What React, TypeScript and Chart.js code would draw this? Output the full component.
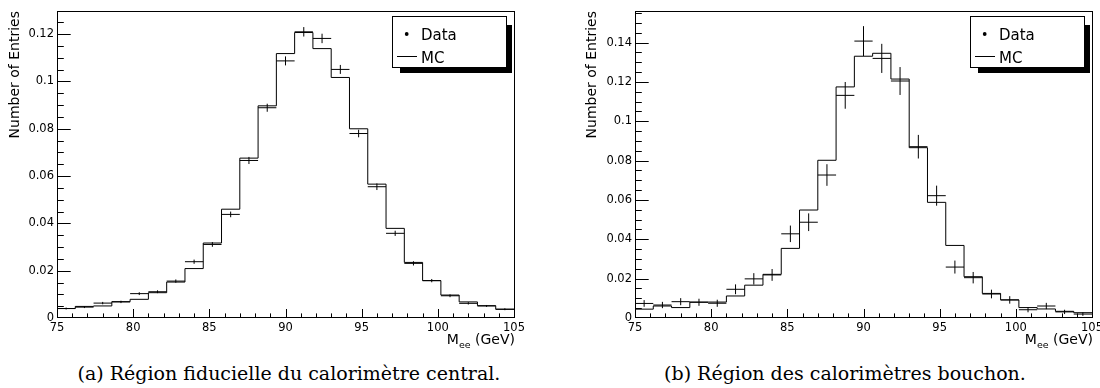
import React, { useEffect, useRef } from "react";
import { Chart, registerables } from "chart.js";

Chart.register(...registerables);

// ---------- data ----------
const binEdges = [75, 76.2, 77.4, 78.6, 79.8, 81, 82.2, 83.4, 84.6, 85.8, 87, 88.2, 89.4, 90.6, 91.8, 93, 94.2, 95.4, 96.6, 97.8, 99, 100.2, 101.4, 102.6, 103.8, 105];
const binCenters = [75.6, 76.8, 78.0, 79.2, 80.4, 81.6, 82.8, 84.0, 85.2, 86.4, 87.6, 88.8, 90.0, 91.2, 92.4, 93.6, 94.8, 96.0, 97.2, 98.4, 99.6, 100.8, 102.0, 103.2, 104.4];
const binHalfWidth = 0.6;

const mcA = [0.0040, 0.0049, 0.0051, 0.0069, 0.0079, 0.0107, 0.0152, 0.0209, 0.0317, 0.0460, 0.0676, 0.0897, 0.1118, 0.1207, 0.1139, 0.1017, 0.0800, 0.0566, 0.0379, 0.0235, 0.0158, 0.0097, 0.0068, 0.0052, 0.0037];
const dataA = [0.0040, 0.0046, 0.0063, 0.0068, 0.0103, 0.0111, 0.0156, 0.0238, 0.0311, 0.0438, 0.0666, 0.0889, 0.1087, 0.1210, 0.1182, 0.1051, 0.0780, 0.0555, 0.0358, 0.0231, 0.0158, 0.0094, 0.0062, 0.0051, 0.0037];
const errA = [0.0004, 0.0004, 0.0005, 0.0005, 0.0006, 0.0006, 0.0007, 0.0009, 0.0010, 0.0012, 0.0015, 0.0017, 0.0019, 0.0020, 0.0020, 0.0019, 0.0016, 0.0014, 0.0011, 0.0009, 0.0007, 0.0006, 0.0005, 0.0004, 0.0004];

const mcB = [0.0045, 0.0061, 0.0053, 0.0081, 0.0081, 0.0112, 0.0167, 0.0222, 0.0354, 0.0549, 0.0802, 0.1175, 0.1331, 0.1346, 0.1215, 0.0866, 0.0588, 0.0369, 0.0210, 0.0125, 0.0092, 0.0053, 0.0046, 0.0034, 0.0027];
const dataB = [0.0074, 0.0066, 0.0083, 0.0080, 0.0075, 0.0146, 0.0199, 0.0219, 0.0428, 0.0487, 0.0727, 0.1132, 0.1408, 0.1320, 0.1205, 0.0871, 0.0622, 0.0259, 0.0205, 0.0122, 0.0092, 0.0042, 0.0061, 0.0031, 0.0020];
const errB = [0.0017, 0.0016, 0.0018, 0.0018, 0.0018, 0.0025, 0.0029, 0.0030, 0.0042, 0.0045, 0.0055, 0.0068, 0.0076, 0.0074, 0.0071, 0.0060, 0.0051, 0.0033, 0.0029, 0.0022, 0.0019, 0.0013, 0.0016, 0.0011, 0.0009];

const xTickValues = [75, 80, 85, 90, 95, 100, 105];
const xTickLabels = ["75", "80", "85", "90", "95", "100", "105"];
const yTickValuesA = [0, 0.02, 0.04, 0.06, 0.08, 0.1, 0.12];
const yTickLabelsA = ["0", "0.02", "0.04", "0.06", "0.08", "0.1", "0.12"];
const yTickValuesB = [0, 0.02, 0.04, 0.06, 0.08, 0.1, 0.12, 0.14];
const yTickLabelsB = ["0", "0.02", "0.04", "0.06", "0.08", "0.1", "0.12", "0.14"];

const legendLabels = ["Data", "MC"];
const yTitle = "Number of Entries";
const xTitleMain = "M";
const xTitleSub = "ee";
const xTitleUnit = " (GeV)";
const captionA = "(a) Région fiducielle du calorimètre central.";
const captionB = "(b) Région des calorimètres bouchon.";

const X_MIN = 75;
const X_MAX = 105;
const X_MINOR = 1;
const X_MAJOR = 5;
const Y_MINOR = 0.005;

// ---------- helpers ----------
type PanelCfg = {
  canvasLeft: number;
  yAxisWidth: number;
  padRight: number;
  yMax: number;
  yTicks: number[];
  yLabels: string[];
  mc: number[];
  data: number[];
  err: number[];
  titleX: number;
};

const FONT = '"DejaVu Sans", Verdana, sans-serif';

function makeDecor(p: PanelCfg) {
  return {
    id: "rootDecor",
    afterDraw(chart: any) {
      const ctx = chart.ctx as CanvasRenderingContext2D;
      const { left, right, top, bottom } = chart.chartArea;
      const xs = chart.scales.x;
      const ys = chart.scales.y;
      ctx.save();
      ctx.strokeStyle = "#000";
      ctx.lineWidth = 1;
      ctx.beginPath();
      const nx = Math.round((X_MAX - X_MIN) / X_MINOR);
      for (let k = 0; k <= nx; k++) {
        const v = X_MIN + k * X_MINOR;
        const px = Math.round(xs.getPixelForValue(v)) + 0.5;
        const major = k % Math.round(X_MAJOR / X_MINOR) === 0;
        const len = major ? 9 : 4.6;
        ctx.moveTo(px, bottom);
        ctx.lineTo(px, bottom - len);
      }
      const ny = Math.floor(p.yMax / Y_MINOR + 1e-6);
      for (let k = 0; k <= ny; k++) {
        const v = k * Y_MINOR;
        const py = Math.min(Math.round(ys.getPixelForValue(v)) + 0.5, bottom - 0.5);
        const len = k % 4 === 0 ? 13.7 : 6.8;
        ctx.moveTo(left, py);
        ctx.lineTo(left + len, py);
      }
      ctx.stroke();
      // frame
      ctx.strokeRect(left + 0.5, top + 0.5, right - left, bottom - top - 1);

      // y title
      ctx.fillStyle = "#000";
      ctx.save();
      ctx.translate(p.titleX, top);
      ctx.rotate(-Math.PI / 2);
      ctx.textAlign = "right";
      ctx.textBaseline = "middle";
      ctx.font = `14px ${FONT}`;
      ctx.fillText(yTitle, 0, 0);
      ctx.restore();

      // x title
      ctx.textAlign = "left";
      ctx.textBaseline = "alphabetic";
      ctx.font = `14px ${FONT}`;
      const w1 = ctx.measureText(xTitleMain).width;
      const w3 = ctx.measureText(xTitleUnit).width;
      ctx.font = `9.5px ${FONT}`;
      const w2 = ctx.measureText(xTitleSub).width;
      const xEnd = right + 1;
      const x0 = xEnd - (w1 + w2 + w3);
      const base = 344;
      ctx.font = `14px ${FONT}`;
      ctx.fillText(xTitleMain, x0, base);
      ctx.fillText(xTitleUnit, x0 + w1 + w2, base);
      ctx.font = `9.5px ${FONT}`;
      ctx.fillText(xTitleSub, x0 + w1, base + 4);

      // legend
      const L = Math.round(right) - 122;
      const T = 16;
      const W = 114;
      const H = 51;
      ctx.fillStyle = "#000";
      ctx.fillRect(L + 8, T + 9, 112, 48);
      ctx.fillStyle = "#fff";
      ctx.fillRect(L, T, W + 1, H + 1);
      ctx.strokeStyle = "#000";
      ctx.strokeRect(L + 0.5, T + 0.5, W, H);
      ctx.fillStyle = "#000";
      ctx.beginPath();
      ctx.arc(L + 14.7, T + 18, 1.9, 0, Math.PI * 2);
      ctx.fill();
      ctx.beginPath();
      ctx.moveTo(L + 5, T + 40.5);
      ctx.lineTo(L + 25, T + 40.5);
      ctx.stroke();
      ctx.font = `15px ${FONT}`;
      ctx.fillText(legendLabels[0], L + 29, T + 24);
      ctx.fillText(legendLabels[1], L + 29, T + 47);
      ctx.restore();
    },
  };
}

function Panel({ p }: { p: PanelCfg }) {
  const ref = useRef<HTMLCanvasElement>(null);
  useEffect(() => {
    const canvas = ref.current!;
    const stepPts = binEdges.map((x, i) => ({ x, y: p.mc[Math.min(i, p.mc.length - 1)] }));
    const hPts: any[] = [];
    const vPts: any[] = [];
    binCenters.forEach((c, i) => {
      hPts.push({ x: c - binHalfWidth, y: p.data[i] });
      hPts.push({ x: c + binHalfWidth, y: p.data[i] });
      hPts.push({ x: c + binHalfWidth, y: null });
      vPts.push({ x: c, y: p.data[i] - p.err[i] });
      vPts.push({ x: c, y: p.data[i] + p.err[i] });
      vPts.push({ x: c, y: null });
    });
    const tickFont = { family: FONT, size: 11.5 };
    const chart = new Chart(canvas, {
      type: "line",
      data: {
        datasets: [
          {
            label: legendLabels[1],
            data: stepPts,
            stepped: "before",
            borderColor: "#000",
            borderWidth: 1,
            pointRadius: 0,
            fill: false,
          },
          {
            label: legendLabels[0] + " x",
            data: hPts,
            borderColor: "#000",
            borderWidth: 1,
            pointRadius: 0,
            spanGaps: false,
            fill: false,
          },
          {
            label: legendLabels[0] + " y",
            data: vPts,
            borderColor: "#000",
            borderWidth: 1,
            pointRadius: 0,
            spanGaps: false,
            fill: false,
          },
        ],
      },
      options: {
        animation: false,
        responsive: false,
        devicePixelRatio: 1,
        events: [],
        layout: { padding: { left: 0, top: 11, right: p.padRight, bottom: 0 } },
        plugins: { legend: { display: false }, tooltip: { enabled: false } },
        scales: {
          x: {
            type: "linear",
            min: X_MIN,
            max: X_MAX,
            grid: { display: false, drawTicks: false },
            border: { display: false },
            afterBuildTicks: (s: any) => {
              s.ticks = xTickValues.map((v) => ({ value: v }));
            },
            afterFit: (s: any) => {
              s.height = 34;
              s.paddingLeft = 0;
              s.paddingRight = 0;
            },
            ticks: {
              autoSkip: false,
              maxRotation: 0,
              padding: 3,
              color: "#000",
              font: tickFont,
              callback: (_v: any, i: number) => xTickLabels[i],
            },
          },
          y: {
            type: "linear",
            min: 0,
            max: p.yMax,
            grid: { display: false, drawTicks: false },
            border: { display: false },
            afterBuildTicks: (s: any) => {
              s.ticks = p.yTicks.map((v) => ({ value: v }));
            },
            afterFit: (s: any) => {
              s.width = p.yAxisWidth;
              s.paddingTop = 0;
              s.paddingBottom = 0;
            },
            ticks: {
              autoSkip: false,
              padding: 3,
              color: "#000",
              font: tickFont,
              callback: (_v: any, i: number) => p.yLabels[i],
            },
          },
        },
      } as any,
      plugins: [makeDecor(p)],
    });
    return () => chart.destroy();
  }, []);
  return (
    <canvas
      ref={ref}
      width={550}
      height={352}
      style={{ position: "absolute", left: p.canvasLeft, top: 0, width: 550, height: 352 }}
    />
  );
}

const panelA: PanelCfg = {
  canvasLeft: 0,
  yAxisWidth: 57,
  padRight: 36,
  yMax: 0.1298,
  yTicks: yTickValuesA,
  yLabels: yTickLabelsA,
  mc: mcA,
  data: dataA,
  err: errA,
  titleX: 15,
};

const panelB: PanelCfg = {
  canvasLeft: 550,
  yAxisWidth: 85,
  padRight: 8,
  yMax: 0.1561,
  yTicks: yTickValuesB,
  yLabels: yTickLabelsB,
  mc: mcB,
  data: dataB,
  err: errB,
  titleX: 42,
};

const captionStyle: React.CSSProperties = {
  position: "absolute",
  top: 363,
  width: 700,
  textAlign: "center",
  fontFamily: '"DejaVu Serif", serif',
  fontSize: 19,
  lineHeight: "20px",
  color: "#000",
  whiteSpace: "nowrap",
};

export default function App() {
  return (
    <div style={{ position: "absolute", left: 0, top: 0, width: 1100, height: 388, background: "#fff", overflow: "hidden" }}>
      <Panel p={panelA} />
      <Panel p={panelB} />
      <div style={{ ...captionStyle, left: 289 - 350 }}>{captionA}</div>
      <div style={{ ...captionStyle, left: 845 - 350 }}>{captionB}</div>
    </div>
  );
}
